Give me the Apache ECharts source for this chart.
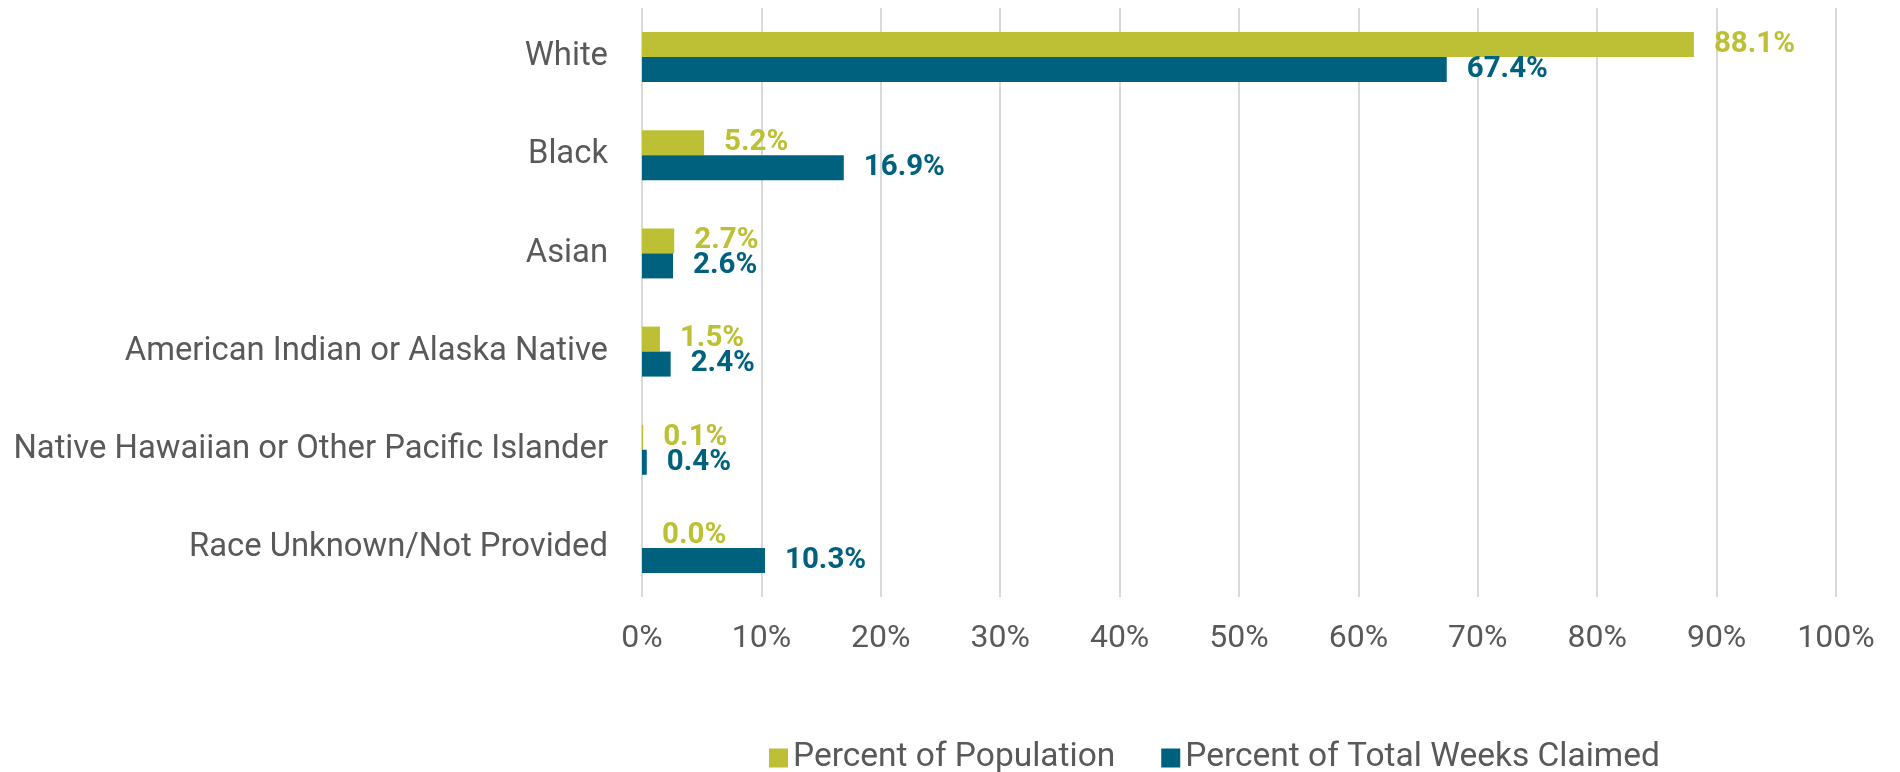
<!DOCTYPE html>
<html>
<head>
<meta charset="utf-8">
<title>Race distribution: population vs. weeks claimed</title>
<script src="https://cdn.jsdelivr.net/npm/echarts@6/dist/echarts.min.js"></script>
<style>
  html, body { margin: 0; padding: 0; background: #ffffff; }
  #chart { width: 1900px; height: 772px; }
</style>
</head>
<body>
<div id="chart"></div>
<script>
// Race categories, top to bottom
const categories = [
  'White',
  'Black',
  'Asian',
  'American Indian or Alaska Native',
  'Native Hawaiian or Other Pacific Islander',
  'Race Unknown/Not Provided'
];

// Percent of state population by race
const percentOfPopulation = [88.1, 5.2, 2.7, 1.5, 0.1, 0.0];

// Percent of total weeks claimed by race
const percentOfWeeksClaimed = [67.4, 16.9, 2.6, 2.4, 0.4, 10.3];

// Value axis ticks: 0% to 100% in steps of 10
const axisMin = 0;
const axisMax = 100;
const axisStep = 10;

const seriesNames = ['Percent of Population', 'Percent of Total Weeks Claimed'];
const GREEN = '#bdc035';
const BLUE = '#00617f';
const TEXT = '#595959';
const FONT = 'Roboto, "Noto Sans", sans-serif';

const chart = echarts.init(document.getElementById('chart'), null, { renderer: 'canvas' });

function valueLabel(color) {
  return {
    show: true,
    position: 'right',
    distance: 20,
    color: color,
    fontFamily: FONT,
    fontWeight: 'bold',
    fontSize: 29.5,
    formatter: p => p.value.toFixed(1) + '%'
  };
}

chart.setOption({
  animation: false,
  textStyle: { fontFamily: FONT },
  grid: { left: 642, right: 64, top: 8, bottom: 175, containLabel: false },
  legend: {
    data: seriesNames,
    left: 764,
    top: 736,
    itemWidth: 19,
    itemHeight: 19,
    itemGap: 46,
    icon: 'rect',
    textStyle: { color: TEXT, fontSize: 33.5, fontFamily: FONT, padding: [0, 0, 0, 0] }
  },
  xAxis: {
    type: 'value',
    min: axisMin,
    max: axisMax,
    interval: axisStep,
    axisLine: { show: false },
    axisTick: { show: false },
    splitLine: { show: true, lineStyle: { color: '#d9d9d9', width: 2 } },
    axisLabel: {
      color: TEXT,
      fontSize: 32,
      fontFamily: FONT,
      margin: 26,
      formatter: '{value}%'
    }
  },
  yAxis: {
    type: 'category',
    data: categories,
    inverse: true,
    axisLine: { show: false },
    axisTick: { show: false },
    axisLabel: { color: TEXT, fontSize: 32.8, fontFamily: FONT, margin: 34 }
  },
  series: [
    {
      name: seriesNames[0],
      type: 'bar',
      data: percentOfPopulation,
      barWidth: 25,
      barGap: '0%',
      itemStyle: { color: GREEN },
      label: valueLabel(GREEN)
    },
    {
      name: seriesNames[1],
      type: 'bar',
      data: percentOfWeeksClaimed,
      barWidth: 25,
      barGap: '0%',
      itemStyle: { color: BLUE },
      label: valueLabel(BLUE)
    }
  ]
});
</script>
</body>
</html>
